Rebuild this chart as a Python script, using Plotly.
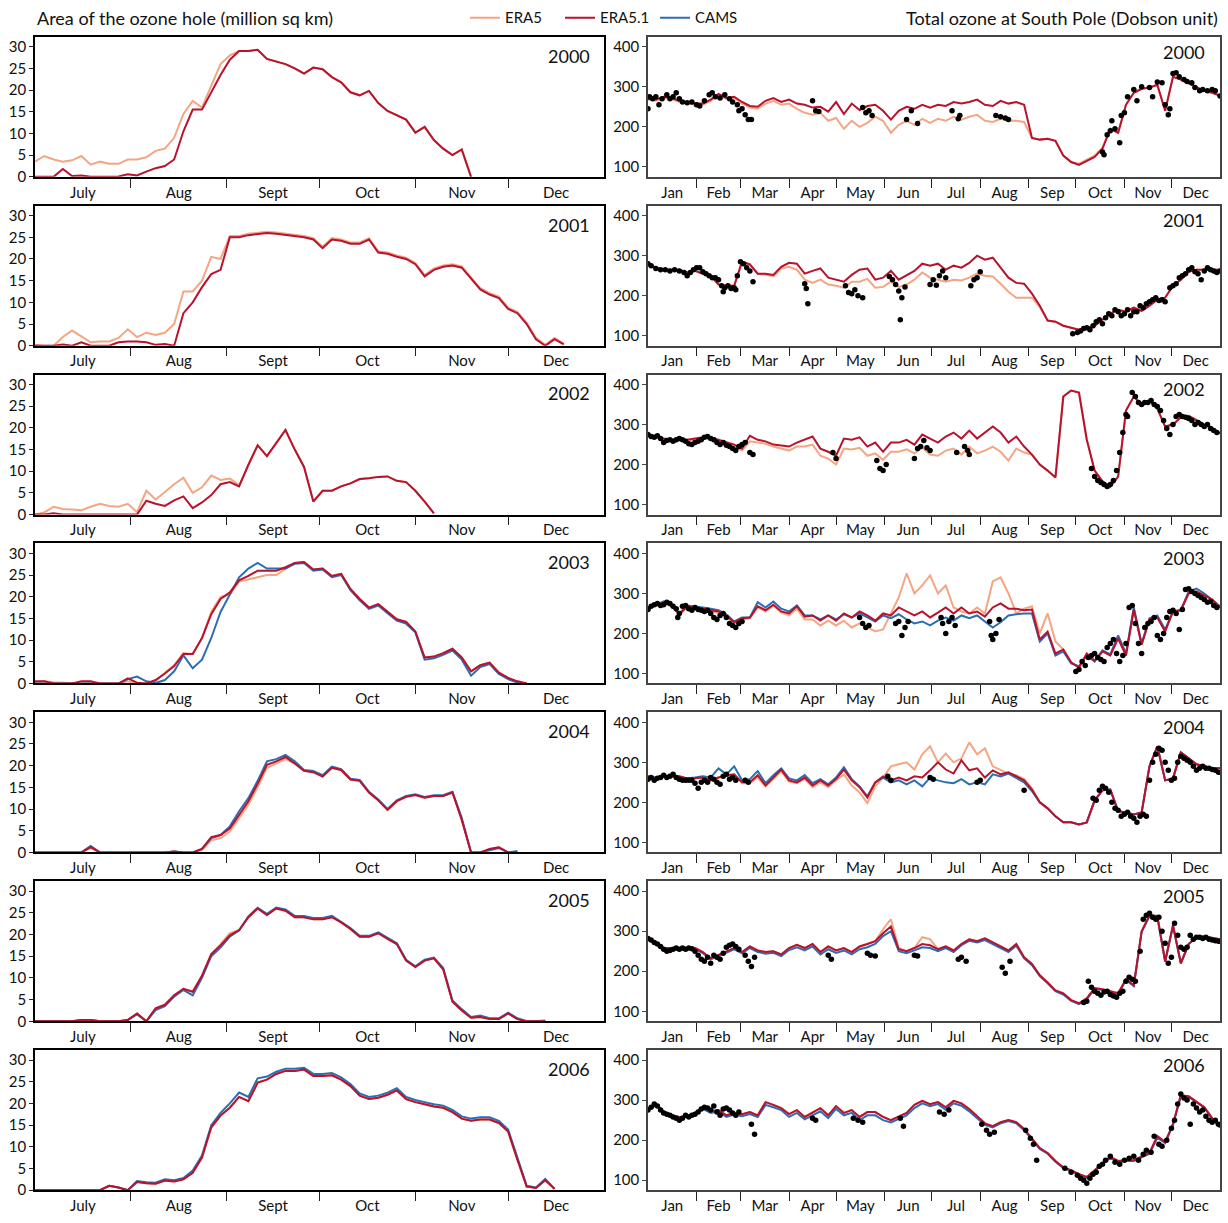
import plotly.graph_objects as go

# ---------------- sampling grids (days) ----------------
L_DAY = list(range(0, 184, 3))   # days since 1 July
R_DAY = list(range(0, 366, 5))   # days since 1 January

YEARS = [2000, 2001, 2002, 2003, 2004, 2005, 2006]

# ---------------- ozone hole area (million sq km), left panels ----------------
L2000_ERA5 = [3.5,4.8,4.0,3.5,3.8,4.8,2.8,3.5,3.0,3.0, 4.0,4.0,4.5,6.0,6.5,9.0,14.5,17.5,16.0,21.0,
              26.0,28.0,29.0,29.0,29.3,27.2,26.6,26.0,25.0,23.8, 25.2,24.8,23.0,21.8,19.5,18.8,19.8,17.0,15.2,14.2,
              13.2,10.2,11.5,8.5,6.5,5.0,6.3,0]
L2000_ERA51 = [0,0,0,1.8,0.2,0.3,0,0,0,0.1, 0.6,0.3,1.2,2.0,2.5,4.0,10.5,15.5,15.5,19.5,
               23.5,27.0,29.0,29.0,29.3,27.2,26.6,26.0,25.0,23.8, 25.2,24.8,23.0,21.8,19.5,18.8,19.8,17.0,15.2,14.2,
               13.2,10.2,11.5,8.5,6.5,5.0,6.3,0]

L2001_ERA5 = [0.2,0,0,2.0,3.5,2.2,0.8,1.0,1.0,1.8, 3.8,2.0,3.0,2.5,3.0,5.0,12.5,12.5,15,20.5,
              20,25.3,25.3,25.8,26.1,26.3,26.1,25.8,25.5,25.3, 24.8,22.8,24.8,24.5,23.8,23.8,24.8,21.8,21.5,20.8,
              20.3,19.1,16.3,17.8,18.5,18.8,18.3,15.8,13.3,12.1, 11.3,8.8,7.8,5.3,1.8,0.2,1.8,0.5]
L2001_ERA51 = [0,0,0,0.3,0,0.8,0,0,0,0.8, 1.0,1.0,0.8,0.2,0.4,0,7.5,10,13.5,16.5,
               17.5,25,25,25.5,25.8,26,25.8,25.5,25.2,25, 24.5,22.5,24.5,24.2,23.5,23.5,24.5,21.5,21.2,20.5,
               20.0,18.8,16,17.5,18.2,18.5,18,15.5,13,11.8, 11,8.5,7.5,5,1.5,0,1.5,0.3]

L2002_ERA5 = [0,0.5,1.8,1.3,1.2,1.0,1.8,2.5,2.0,1.8, 2.5,0.6,5.5,3.5,5.2,7.0,8.5,5.0,6.3,9.0,
              8.0,8.3,6.8,11.5,16,13.5,16.5,19.5,15,11, 3.0,5.5,5.5,6.5,7.2,8.2,8.4,8.7,8.8,7.8,
              7.5,5.5,3,0.3]
L2002_ERA51 = [0,0,0.3,0,0,0,0,0,0,0, 0,0,3.2,2.5,2.0,3.3,4.2,1.5,2.8,4.5,
               7.0,7.5,6.5,11.5,16,13.5,16.5,19.5,15,11, 3.0,5.5,5.5,6.5,7.2,8.2,8.4,8.7,8.8,7.8,
               7.5,5.5,3,0.3]

L2003_ERA5 = [0.3,0.5,0.3,0.2,0,0,0,0,0,0, 0.5,0,0,0.5,2.5,4.2,7.0,6.8,10.5,16.5,
              20.0,20.5,23.5,24.0,24.5,25.0,25.0,26.5,27.8,28.0, 26.3,26.5,24.8,25.3,21.8,19.5,17.5,18.3,16.5,14.8,
              14.2,12.0,6.0,6.2,7.0,8.0,6.0,2.8,4.2,4.8, 2.5,1.3,0.5,0]
L2003_ERA51 = [0.5,0.5,0,0,0,0.5,0.5,0,0,0, 1.2,0.2,0,0.8,2.3,4.0,6.8,6.8,10.5,16.0,
               19.5,21.0,23.8,24.8,26.0,26.0,26.0,26.8,27.8,28.0, 26.3,26.5,24.8,25.3,21.8,19.5,17.5,18.3,16.5,14.8,
               14.2,12.0,6.0,6.2,7.0,8.0,6.0,2.8,4.2,4.8, 2.5,1.3,0.5,0]
L2003_CAMS = [0,0,0,0,0,0,0,0,0,0, 1.0,1.6,0.5,0.1,0.8,2.8,6.5,3.5,5.5,10.5,
              16.5,20.5,24.5,26.5,27.8,26.5,26.5,26.5,27.6,27.8, 26.0,26.3,24.5,25.0,21.5,19.2,17.2,18.0,16.2,14.5,
              13.8,11.8,5.5,5.8,6.6,7.6,5.5,1.8,3.8,4.5, 2.2,1.0,0.2,0]

L2004_ERA5 = [0,0,0,0,0,0,1.0,0,0,0, 0,0,0,0,0,0.2,0,0,0.5,2.8,
              3.3,4.8,8.0,11.0,15.0,19.5,20.5,21.5,20.5,18.8, 18.5,17.5,19.5,19.0,16.8,16.5,13.8,12.0,9.8,11.8,
              12.8,13.2,12.6,13.0,13.0,13.8,7.5,0,0,0.8, 1.2,0,0]
L2004_ERA51 = [0,0,0,0,0,0,1.2,0,0,0, 0,0,0,0,0,0.2,0,0,0.8,3.5,
               4.0,5.5,8.8,11.8,15.8,20.2,21.0,22.0,20.5,18.8, 18.5,17.5,19.5,19.0,16.8,16.5,13.8,12.0,9.8,11.8,
               12.8,13.2,12.6,13.0,13.0,13.8,7.5,0,0,0.8, 1.2,0,0]
L2004_CAMS = [0,0,0,0,0,0,1.5,0,0,0, 0,0,0,0,0,0.2,0,0,0.8,3.3,
              4.0,6.0,9.5,12.5,16.5,21.0,21.5,22.5,21.0,19.0, 18.8,17.8,19.8,19.2,17.0,16.7,14.0,12.2,10.0,12.0,
              13.0,13.4,12.8,13.2,13.2,14.0,8.0,0,0,0.5, 1.0,0,0.3]

L2005_ERA5 = [0,0,0,0,0,0.3,0.3,0,0,0, 0.3,1.8,0,3.0,3.8,6.0,7.5,6.8,10.5,15.5,
              17.8,20.3,21.0,24.0,26.0,24.5,26.0,25.5,24.0,24.0, 23.5,23.5,24.0,22.8,21.3,19.5,19.5,20.3,19.0,17.8,
              14.0,12.5,14.0,14.5,12.0,4.5,2.5,0.8,1.0,0.5, 0.5,1.8,0.5,0,0,0.3]
L2005_ERA51 = [0,0,0,0,0,0.3,0.3,0,0,0, 0.3,1.8,0,3.0,3.8,6.0,7.5,6.8,10.5,15.5,
               17.5,19.8,21.0,24.0,26.0,24.5,26.0,25.5,24.0,24.0, 23.5,23.5,24.0,22.8,21.3,19.5,19.5,20.3,19.0,17.8,
               14.0,12.5,14.0,14.5,12.0,4.5,2.5,0.8,1.0,0.5, 0.5,1.8,0.5,0,0,0]
L2005_CAMS = [0,0,0,0,0,0.3,0.3,0,0,0, 0.3,1.6,0,2.6,3.5,5.7,7.2,6.0,10.0,15.0,
              17.0,19.5,21.0,24.2,26.2,24.8,26.2,25.8,24.3,24.3, 23.8,23.8,24.3,23.0,21.5,19.7,19.7,20.5,19.2,18.0,
              14.2,12.7,14.2,14.7,12.3,4.8,2.8,1.0,1.3,0.7, 0.7,2.0,0.7,0,0,0]

L2006_ERA5 = [0,0,0,0,0,0,0,0,1.0,0.6, 0,1.9,1.6,1.5,2.2,2.0,2.5,4.0,7.5,14.5,
              17.2,19.0,21.5,20.5,24.8,25.5,26.8,27.5,27.5,27.8, 26.3,26.3,26.5,25.5,24.0,21.8,21.0,21.3,22.0,23.0,
              21.0,20.3,19.8,19.3,19.0,18.0,16.5,16.0,16.3,16.3, 15.5,13.5,7.0,0.8,0.5,2.3,0.3]
L2006_ERA51 = [0,0,0,0,0,0,0,0,1.0,0.6, 0,1.9,1.6,1.5,2.2,2.0,2.5,4.0,7.5,14.5,
               17.2,19.0,21.5,20.5,24.8,25.5,26.8,27.5,27.5,27.8, 26.3,26.3,26.5,25.5,24.0,21.8,21.0,21.3,22.0,23.0,
               21.0,20.3,19.8,19.3,19.0,18.0,16.5,16.0,16.3,16.3, 15.5,13.5,7.0,0.8,0.5,2.3,0.3]
L2006_CAMS = [0,0,0,0,0,0,0,0,1.0,0.6, 0,2.1,1.8,1.7,2.5,2.3,2.8,4.5,8.0,15.0,
              17.8,20.0,22.5,21.5,25.8,26.2,27.3,28.0,28.0,28.2, 26.8,26.8,27.0,26.0,24.5,22.3,21.5,21.8,22.5,23.5,
              21.5,20.8,20.3,19.8,19.5,18.5,17.0,16.5,16.8,16.8, 16.0,14.0,7.5,1.0,0.6,2.6,0.3]

# ---------------- total ozone at South Pole (DU), right panels ----------------
R2000_ERA5 = [268,265,272,270,262,258,255,255,265,280, 270,272,258,248,245,258,265,255,258,245,
              235,230,235,215,222,195,215,200,210,225, 215,185,205,215,205,220,210,220,215,225,
              218,225,230,215,212,220,215,215,212,172, 168,170,165,128,112,108,118,128,148,195,
              185,255,285,295,298,305,240,325,318,308, 298,290,285,278]
R2000_ERA51 = [270,268,275,272,265,262,258,258,268,282, 272,275,262,252,250,265,272,262,268,258,
               255,248,250,238,262,232,258,242,252,255, 240,218,240,250,245,255,248,255,252,262,
               258,262,268,255,252,265,258,262,255,172, 168,170,165,128,112,105,115,125,145,195,
               185,255,285,295,298,305,240,325,318,308, 298,290,285,278]
OBS2000_DAY = [0,1,3,5,7,9,12,14,16,18,20,22,25,28,31,33,36,39,41,43,46,49,52,54,57,58,60,62,64,66,
               105,107,109, 137,139,141,143, 165,168,172, 194,198,199, 222,225,228,230,
               290,291,293,295,296,298,301,302,304,306,310,312,315,320,322,325,328,330,332,333,
               335,337,339,342,344,347,349,352,354,357,360,362,365]
OBS2000_VAL = [245,275,270,275,255,270,280,270,275,285,270,262,260,262,255,252,265,280,285,275,272,280,270,262,255,240,245,230,218,218,
               265,240,238, 248,235,240,228, 218,240,208, 240,220,228, 228,225,222,218,
               137,130,180,190,215,195,160,228,235,275,293,265,300,298,275,312,310,255,230,245,
               333,335,325,318,313,310,298,290,293,290,293,290,277]

R2001_ERA5 = [280,270,265,265,265,258,262,255,250,228, 225,225,285,278,255,252,248,268,272,265,
              240,232,240,228,225,220,235,235,242,220, 222,235,222,228,240,258,245,240,235,240,
              238,245,255,250,248,230,210,195,195,195, 172,138,135,125,120,115,120,125,140,155,
              165,160,170,162,175,190,195,225,240,260, 265,265,265,265]
R2001_ERA51 = [280,270,265,265,265,258,262,255,250,228, 225,225,285,278,255,255,252,272,282,280,
               255,262,268,245,240,235,252,265,268,240, 245,262,240,250,262,280,275,280,265,275,
               270,282,300,290,295,270,245,232,230,205, 175,138,135,125,120,115,120,125,140,155,
               165,160,170,162,175,190,195,225,240,260, 265,265,265,265]
OBS2001_DAY = [0,2,5,8,11,14,17,20,23,25,27,29,31,33,35,37,39,41,43,45,47,48,49,51,53,55,56,57,59,61,63,65,67,
               100,101,102, 126,128,130,132,134,137, 154,156,158,160,161,162,164,
               180,182,184,186,188,190, 206,208,210,212,
               271,274,276,278,280,282,284,286,288,290,292,294,296,298,300,302,304,306,308,310,
               312,314,316,318,320,322,324,326,328,330,333,335,337,339,341,343,345,347,349,351,
               353,355,357,359,361,363,365]
OBS2001_VAL = [280,275,268,265,265,262,265,262,258,250,258,265,270,270,260,255,250,245,245,240,225,210,220,225,218,220,215,250,285,280,270,262,235,
               230,218,180, 225,208,205,215,200,195, 248,240,228,212,140,195,222,
               228,240,226,250,262,245, 225,240,245,260,
               105,108,112,118,120,115,125,135,140,130,145,155,150,165,160,150,155,165,150,160,
               160,175,170,180,185,190,195,188,190,185,220,225,230,245,250,255,265,270,260,255,
               240,262,270,265,262,258,262]

R2002_ERA5 = [272,268,262,260,260,260,262,265,265,258, 250,245,235,258,255,252,245,240,235,245,
              245,250,222,215,200,240,238,242,222,228, 212,232,232,238,228,242,225,222,235,240,
              225,245,228,235,245,232,210,240,230,225, 200,185,168,370,385,380,262,185,158,145,
              170,335,370,350,360,340,295,300,318,322, 310,300,292,278]
R2002_ERA51 = [275,270,265,262,262,262,265,268,268,262, 255,250,240,272,262,258,250,248,245,255,
               262,270,240,232,222,265,262,268,245,255, 232,255,255,262,250,275,265,255,270,280,
               265,285,265,280,295,280,255,270,245,225, 200,185,168,370,385,380,262,185,158,145,
               170,335,370,350,360,340,295,300,318,322, 310,300,292,278]
OBS2002_DAY = [0,2,4,6,8,10,12,14,16,18,20,22,24,26,28,30,32,34,36,38,40,42,44,46,48,50,52,54,56,58,60,62,
               65,67, 118,120, 146,148,150,152, 170,172,174,176,178,180, 197,202,204,205,
               283,285,287,289,291,293,295,297,299,301,303,305,306,309,311,313,315,317,319,321,
               323,325,327,329,331,333,335,337,339,341,343,345,347,349,351,353,355,357,359,361,363]
OBS2002_VAL = [275,270,268,272,265,255,260,262,258,262,265,262,258,252,250,255,258,262,268,270,265,262,255,250,255,248,245,240,235,245,250,255,
               230,225, 230,215, 210,190,185,200, 215,240,245,260,242,235, 230,245,235,225,
               190,170,160,155,150,145,150,160,185,230,280,325,320,380,370,355,350,355,355,360,
               350,345,335,310,290,275,300,320,325,320,318,315,310,300,305,300,295,300,290,285,280]

R2003_ERA5 = [265,270,275,268,248,265,262,258,255,252, 242,225,235,238,265,255,270,252,245,262,
              235,235,220,232,220,232,215,225,215,205, 210,250,290,350,300,320,345,300,320,265,
              255,250,265,250,330,340,300,250,262,268, 200,250,180,160,128,115,150,132,155,145,
              188,145,260,172,235,240,205,255,258,300, 305,295,285,265]
R2003_ERA51 = [265,270,278,270,248,268,265,262,258,255, 245,228,238,240,268,258,272,255,250,268,
               242,245,232,245,232,250,240,255,245,232, 250,245,265,255,245,255,240,252,265,250,
               265,250,255,242,265,275,262,262,258,260, 185,205,150,160,128,115,150,132,155,145,
               188,145,260,172,235,240,205,255,258,300, 305,295,285,265]
R2003_CAMS = [262,272,280,272,250,270,268,265,262,258, 248,230,240,240,278,265,280,262,255,270,
              245,245,235,245,235,248,240,250,240,230, 245,238,248,235,225,230,220,232,240,232,
              245,238,245,230,215,228,245,248,250,250, 180,200,145,155,125,118,145,130,158,148,
              195,150,265,175,238,245,210,255,258,305, 312,300,285,268]
OBS2003_DAY = [0,2,4,6,8,10,12,14,16,18,19,20,22,24,26,28,30,32,34,36,38,40,42,44,46,48,50,52,54,56,58,60,
               135,137,139,141, 158,160,162,164,166, 187,188,190,192,194,196, 218,219,220,222,224,
               273,275,277,279,281,283,285,287,289,291,293,295,297,299,301,303,305,307,309,311,
               313,315,317,319,321,323,325,327,329,331,333,335,337,339,341,343,345,347,349,351,
               353,355,357,359,361,363]
OBS2003_VAL = [260,268,272,275,270,272,278,275,268,262,240,250,268,270,262,258,265,260,258,255,258,250,240,235,245,250,240,225,220,215,225,230,
               240,225,215,220, 225,230,195,215,230, 240,225,200,230,240,220, 230,195,185,200,235,
               105,110,130,120,140,145,150,140,135,130,165,175,185,150,130,145,175,265,270,225,
               175,150,215,225,230,240,195,185,200,240,255,258,250,210,260,310,312,305,300,295,
               290,285,278,280,270,265]

R2004_ERA5 = [265,260,265,265,265,260,260,262,255,262, 265,268,248,248,262,240,258,278,252,248,
              258,238,250,238,255,270,242,225,198,240, 262,290,295,300,282,320,340,300,322,300,
              310,350,320,335,290,280,272,268,258,235, 200,185,165,150,150,145,150,205,230,232,
              178,175,170,175,290,340,255,260,325,310, 295,290,285,285]
R2004_ERA51 = [265,260,265,265,265,260,260,262,255,262, 268,270,250,250,268,242,262,282,255,250,
               262,242,255,242,258,282,255,238,212,250, 265,255,262,255,265,262,280,300,282,272,
               305,280,285,262,280,270,275,265,255,232, 200,185,165,150,150,145,150,205,230,232,
               178,175,170,175,290,340,255,260,325,310, 295,290,285,285]
R2004_CAMS = [265,262,265,265,262,260,262,265,262,285, 270,290,255,258,278,248,268,285,260,255,
              268,248,258,245,262,288,258,240,215,250, 262,250,255,245,255,240,262,255,250,248,
              258,245,250,245,270,265,272,262,250,228, 200,185,165,150,150,145,150,205,230,232,
              178,175,170,175,290,340,255,260,325,310, 295,290,285,285]
OBS2004_DAY = [0,2,4,6,8,10,12,14,16,18,20,22,24,26,28,30,32,34,36,38,40,42,44,46,48,50,52,54,56,
               62,64, 153,155, 180,182, 210,212, 240,
               284,286,288,290,292,294,296,298,300,302,304,306,308,310,312,314,316,318,320,322,
               324,326,328,330,332,334,336,338,340,342,344,346,348,350,352,354,356,358,360,362,364]
OBS2004_VAL = [258,262,255,260,262,268,262,265,270,262,258,255,255,255,255,248,235,250,255,250,262,258,250,245,265,270,258,262,255,
               255,250, 265,255, 262,258, 250,255, 230,
               210,205,230,240,235,225,200,185,180,165,170,175,165,160,150,165,170,165,255,300,
               320,335,330,300,280,255,260,300,315,310,305,300,290,280,285,290,285,285,282,280,275]

R2005_ERA5 = [280,272,258,258,255,258,258,248,232,240, 250,258,248,262,252,248,250,242,258,266,
              258,268,248,262,252,258,248,262,268,275, 305,330,258,250,258,285,280,255,262,252,
              268,280,275,282,272,262,252,268,235,218, 190,172,152,145,128,120,132,158,155,150,
              145,180,165,300,340,338,225,315,220,268, 285,287,283,280]
R2005_ERA51 = [280,272,258,258,255,258,258,248,232,240, 250,258,248,262,252,248,250,242,258,266,
               258,268,248,262,252,258,248,262,268,275, 295,312,255,250,258,268,265,255,262,252,
               268,280,275,282,272,262,252,268,235,218, 190,172,152,145,128,120,132,158,155,150,
               145,180,165,300,340,338,225,315,220,268, 285,287,283,280]
R2005_CAMS = [278,270,256,256,253,256,256,245,230,238, 247,255,245,258,248,244,246,238,253,260,
              252,262,242,255,246,252,242,255,260,268, 288,300,250,245,252,260,258,250,258,248,
              265,276,272,278,268,258,248,264,232,215, 188,170,150,142,126,118,130,156,153,148,
              143,178,163,298,338,336,224,313,220,268, 285,287,283,280]
OBS2005_DAY = [0,2,4,6,8,10,12,14,16,18,20,22,24,26,28,30,32,34,36,38,40,42,44,46,48,50,52,54,56,58,
               62,64,66,68, 115,117, 140,142,145, 170,172, 198,200,203, 226,228,231,
               278,280,281,283,285,287,289,291,293,295,297,299,301,303,305,307,309,311,314,316,
               318,320,322,324,326,328,330,332,334,336,338,340,342,344,346,348,350,352,354,356,
               358,360,362,364]
OBS2005_VAL = [282,278,272,268,262,255,250,252,255,258,255,258,255,258,256,250,240,230,225,235,220,240,235,230,245,260,265,268,262,255,
               240,225,212,235, 240,230, 245,240,238, 240,238, 230,235,225, 210,195,225,
               122,125,175,160,150,145,140,148,150,142,138,135,145,150,175,185,180,175,250,330,
               340,345,335,330,335,300,270,220,235,320,290,260,255,260,290,280,285,285,282,285,
               280,278,276,275]

R2006_ERA5 = [278,290,272,262,258,260,268,282,272,275, 262,268,265,270,262,295,288,280,265,275,
              258,268,280,262,285,268,275,258,270,270, 258,250,260,268,288,298,290,295,282,298,
              292,278,260,242,235,245,250,245,228,205, 180,168,148,132,125,115,108,125,142,158,
              148,150,150,158,168,210,195,240,312,310, 296,282,255,232]
R2006_ERA51 = [278,290,272,262,258,260,268,282,272,275, 262,268,265,270,262,295,288,280,265,275,
               258,268,280,262,285,268,275,258,270,270, 258,250,260,268,288,298,290,295,282,298,
               292,278,260,242,235,245,250,245,228,205, 180,168,148,132,125,115,108,125,142,158,
               148,150,150,158,168,210,195,240,312,310, 296,282,255,232]
R2006_CAMS = [276,287,270,260,256,258,265,278,268,272, 258,264,260,265,258,288,282,275,258,268,
              252,262,272,255,278,262,268,250,262,262, 250,244,252,262,280,292,285,290,276,292,
              286,272,255,238,232,242,248,242,225,202, 178,166,146,130,123,113,106,123,140,156,
              146,148,148,156,166,206,193,238,310,308, 295,281,254,231]
OBS2006_DAY = [0,2,4,6,8,10,12,14,16,18,20,22,24,26,28,30,32,34,36,38,40,42,44,46,48,50,52,54,56,58,
               66,68, 105,107, 131,134,137, 161,163, 186,189,192, 213,216,218,221, 241,244,246,248,
               266,270,274,276,278,280,282,284,286,288,290,292,295,298,301,304,307,310,313,316,
               318,321,323,326,328,331,334,336,338,340,342,344,346,348,350,352,354,356,358,360,
               362,364]
OBS2006_VAL = [275,282,290,285,275,268,265,262,258,255,250,255,262,258,262,265,270,278,282,280,275,285,270,262,278,280,275,268,262,270,
               240,215, 255,250, 255,250,245, 255,235, 270,265,275, 240,225,215,220, 225,205,190,150,
               130,120,112,105,100,92,105,115,120,135,140,150,160,145,140,150,155,160,150,165,
               175,170,210,190,185,200,230,250,290,315,305,300,240,290,280,270,275,260,250,245,
               250,240]

LEFT = {
    2000: (L2000_ERA5, L2000_ERA51, None), 2001: (L2001_ERA5, L2001_ERA51, None),
    2002: (L2002_ERA5, L2002_ERA51, None), 2003: (L2003_ERA5, L2003_ERA51, L2003_CAMS),
    2004: (L2004_ERA5, L2004_ERA51, L2004_CAMS), 2005: (L2005_ERA5, L2005_ERA51, L2005_CAMS),
    2006: (L2006_ERA5, L2006_ERA51, L2006_CAMS),
}
RIGHT = {
    2000: (R2000_ERA5, R2000_ERA51, None, OBS2000_DAY, OBS2000_VAL),
    2001: (R2001_ERA5, R2001_ERA51, None, OBS2001_DAY, OBS2001_VAL),
    2002: (R2002_ERA5, R2002_ERA51, None, OBS2002_DAY, OBS2002_VAL),
    2003: (R2003_ERA5, R2003_ERA51, R2003_CAMS, OBS2003_DAY, OBS2003_VAL),
    2004: (R2004_ERA5, R2004_ERA51, R2004_CAMS, OBS2004_DAY, OBS2004_VAL),
    2005: (R2005_ERA5, R2005_ERA51, R2005_CAMS, OBS2005_DAY, OBS2005_VAL),
    2006: (R2006_ERA5, R2006_ERA51, R2006_CAMS, OBS2006_DAY, OBS2006_VAL),
}

L_MONTHS = ["July", "Aug", "Sept", "Oct", "Nov", "Dec"]
L_BOUNDS = [0, 31, 62, 92, 123, 153, 184]
R_MONTHS = ["Jan", "Feb", "Mar", "Apr", "May", "Jun", "Jul", "Aug", "Sep", "Oct", "Nov", "Dec"]
R_BOUNDS = [0, 31, 59, 90, 120, 151, 181, 212, 243, 273, 304, 334, 365]

C_ERA5 = "#F4A582"
C_ERA51 = "#B8122E"
C_CAMS = "#2A6EB4"
FONT = "Lato, 'Open Sans', sans-serif"

W, H = 1228, 1223
LX = [35 / W, 604 / W]
RX = [648 / W, 1220 / W]


def ydom(i):
    top = 37 + 170 * i
    bot = 178 + 170 * i
    return [1 - bot / H, 1 - top / H]


def sfx(n):
    return "" if n == 1 else str(n)


fig = go.Figure()
layout = {}
annotations = []
shown = set()


def add_line(x, y, color, name, xa, ya):
    fig.add_trace(go.Scatter(
        x=x[:len(y)], y=y, mode="lines", line=dict(color=color, width=2),
        name=name, legendgroup=name, showlegend=name not in shown,
        xaxis=xa, yaxis=ya, hoverinfo="skip"))
    shown.add(name)


def month_axis(domain, anchor, bounds, names, linecolor):
    mids = [(bounds[k] + bounds[k + 1]) / 2 for k in range(len(names))]
    return dict(domain=domain, anchor=anchor, range=[bounds[0], bounds[-1]],
                showline=True, mirror=True, linecolor=linecolor, linewidth=1.5,
                tickmode="array", tickvals=mids, ticktext=names, ticks="",
                ticklabelstandoff=1,
                tickfont=dict(family=FONT, size=15, color="#111"),
                showgrid=False, zeroline=False, fixedrange=True,
                minor=dict(tickmode="array", tickvals=bounds[1:-1], ticks="outside",
                           ticklen=9, tickwidth=1.2, tickcolor="#222", showgrid=False))


for i, year in enumerate(YEARS):
    sl, sr = sfx(2 * i + 1), sfx(2 * i + 2)
    xl, yl, xr, yr = "x" + sl, "y" + sl, "x" + sr, "y" + sr
    era5, era51, cams = LEFT[year]
    add_line(L_DAY, era5, C_ERA5, "ERA5", xl, yl)
    if cams is not None:
        add_line(L_DAY, cams, C_CAMS, "CAMS", xl, yl)
    add_line(L_DAY, era51, C_ERA51, "ERA5.1", xl, yl)
    r5, r51, rc, od, ov = RIGHT[year]
    add_line(R_DAY, r5, C_ERA5, "ERA5", xr, yr)
    if rc is not None:
        add_line(R_DAY, rc, C_CAMS, "CAMS", xr, yr)
    add_line(R_DAY, r51, C_ERA51, "ERA5.1", xr, yr)
    fig.add_trace(go.Scatter(x=od, y=ov, mode="markers",
                             marker=dict(color="black", size=5.5, line=dict(width=0)),
                             showlegend=False, xaxis=xr, yaxis=yr, hoverinfo="skip"))

    layout["xaxis" + sl] = month_axis(LX, yl, L_BOUNDS, L_MONTHS, "black")
    layout["xaxis" + sr] = month_axis(RX, yr, R_BOUNDS, R_MONTHS, "#444")
    layout["yaxis" + sl] = dict(domain=ydom(i), anchor=xl, range=[0, 32.3],
                                tickmode="array", tickvals=[0, 5, 10, 15, 20, 25, 30],
                                ticks="outside", ticklen=4, tickcolor="#222",
                                showline=True, mirror=True, linecolor="black", linewidth=1.5,
                                showgrid=False, zeroline=False, fixedrange=True,
                                tickfont=dict(family=FONT, size=15, color="#111"))
    layout["yaxis" + sr] = dict(domain=ydom(i), anchor=xr, range=[75, 425],
                                tickmode="array", tickvals=[100, 200, 300, 400],
                                ticks="outside", ticklen=4, tickcolor="#444",
                                showline=True, mirror=True, linecolor="#444", linewidth=1.5,
                                showgrid=False, zeroline=False, fixedrange=True,
                                tickfont=dict(family=FONT, size=15, color="#111"))
    annotations.append(dict(text=str(year), xref=xl + " domain", yref=yl + " domain",
                            x=0.979, y=0.865, xanchor="right", yanchor="middle", showarrow=False,
                            font=dict(family=FONT, size=18, color="#111")))
    annotations.append(dict(text=str(year), xref=xr + " domain", yref=yr + " domain",
                            x=0.977, y=0.894, xanchor="right", yanchor="middle", showarrow=False,
                            font=dict(family=FONT, size=18, color="#111")))

annotations.append(dict(text="Area of the ozone hole (million sq km)", xref="paper", yref="paper",
                        x=35 / W, y=1 - 18 / H, xanchor="left", yanchor="middle", showarrow=False,
                        font=dict(family=FONT, size=18, color="#111")))
annotations.append(dict(text="Total ozone at South Pole (Dobson unit)", xref="paper", yref="paper",
                        x=1220 / W, y=1 - 18 / H, xanchor="right", yanchor="middle", showarrow=False,
                        font=dict(family=FONT, size=18, color="#111")))

fig.update_layout(
    width=W, height=H, margin=dict(l=0, r=0, t=0, b=0),
    paper_bgcolor="white", plot_bgcolor="white",
    font=dict(family=FONT, size=15, color="#111"),
    showlegend=True,
    legend=dict(orientation="h", x=465 / W, y=1 - 18 / H, xanchor="left", yanchor="middle",
                font=dict(family=FONT, size=15, color="#111"), bgcolor="rgba(0,0,0,0)",
                entrywidth=50, entrywidthmode="pixels", tracegroupgap=0, itemwidth=30),
    annotations=annotations,
    **layout,
)

fig.write_html("out.html")
